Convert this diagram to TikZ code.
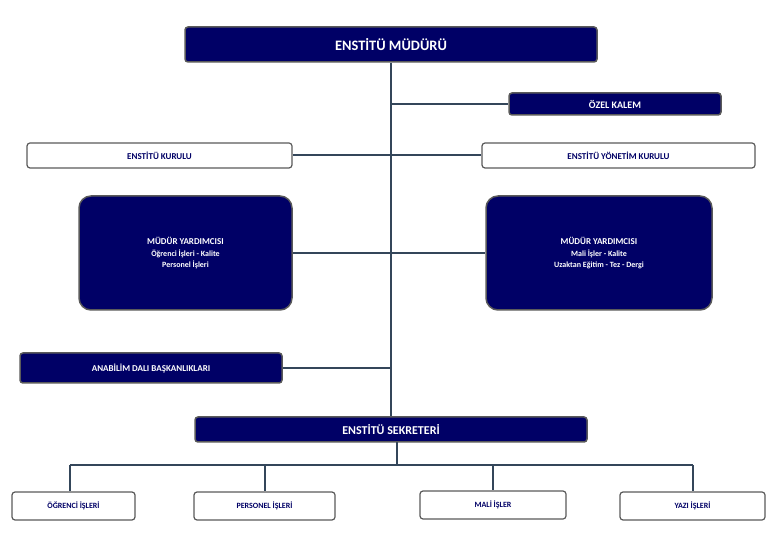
\documentclass[tikz,border=0pt]{standalone}
\usepackage{fontspec}
\setmainfont{Carlito}
\begin{document}
\begin{tikzpicture}[x=1pt,y=-1pt]
    \definecolor{navy}{HTML}{000066}
    \definecolor{edge}{HTML}{5A5A5A}
    \definecolor{link}{HTML}{34465A}
    \tikzstyle{dark}=[rectangle,rounded corners=3pt,draw=edge,line width=1.5pt,fill=navy,text=white,font=\bfseries,inner sep=0pt]
    \tikzstyle{light}=[rectangle,rounded corners=3pt,draw=edge,line width=1.2pt,fill=white,text=navy,font=\bfseries\small,inner sep=0pt]
    \tikzstyle{line}=[link,line width=2pt]
    \useasboundingbox (0,0) rectangle (782,534);

    \node[dark,minimum width=412pt,minimum height=35pt,font=\bfseries\Large] (mudur) at (391,44.5) {ENSTİTÜ MÜDÜRÜ};
    \node[dark,minimum width=212pt,minimum height=22pt,font=\bfseries\normalsize] (kalem) at (615,104) {ÖZEL KALEM};
    \node[light,minimum width=265pt,minimum height=25pt] (kurul) at (159.5,155.5) {ENSTİTÜ KURULU};
    \node[light,minimum width=273pt,minimum height=25pt] (yonetim) at (618.5,155.5) {ENSTİTÜ YÖNETİM KURULU};
    \node[dark,rounded corners=12pt,minimum width=213pt,minimum height=114pt,align=center,font=\bfseries\small] (myard1) at (185.5,253)
        {MÜDÜR YARDIMCISI\\[1pt]{\footnotesize Öğrenci İşleri - Kalite}\\{\footnotesize Personel İşleri}};
    \node[dark,rounded corners=12pt,minimum width=226pt,minimum height=114pt,align=center,font=\bfseries\small] (myard2) at (599,253)
        {MÜDÜR YARDIMCISI\\[1pt]{\footnotesize Mali İşler - Kalite}\\{\footnotesize Uzaktan Eğitim - Tez - Dergi}};
    \node[dark,minimum width=262pt,minimum height=30pt,font=\bfseries\small] (anabilim) at (151,368) {ANABİLİM DALI BAŞKANLIKLARI};
    \node[dark,minimum width=392pt,minimum height=25pt,font=\bfseries\large] (sekreter) at (391,429.5) {ENSTİTÜ SEKRETERİ};

    \node[light,minimum width=123pt,minimum height=28pt,font=\bfseries\footnotesize] (ogrenci) at (73.5,506) {ÖĞRENCİ İŞLERİ};
    \node[light,minimum width=141pt,minimum height=28pt,font=\bfseries\footnotesize] (personel) at (264.5,506) {PERSONEL İŞLERİ};
    \node[light,minimum width=146pt,minimum height=28pt,font=\bfseries\footnotesize] (mali) at (493,505) {MALİ İŞLER};
    \node[light,minimum width=145pt,minimum height=28pt,font=\bfseries\footnotesize] (yazi) at (692.5,506) {YAZI İŞLERİ};

    % trunk and branches
    \begin{scope}[on background layer/.try]
    \end{scope}
    \draw[line] (mudur.south) -- (sekreter.north);
    \draw[line] (391,104) -- (kalem.west);
    \draw[line] (kurul.east) -- (yonetim.west);
    \draw[line] (myard1.east) -- (myard2.west);
    \draw[line] (anabilim.east) -- (391,368);

    \coordinate (split) at (397,465);
    \draw[line] (397,442) -- (split);
    \draw[line] (70,465) -- (693,465);
    \draw[line] (70,465) -- (ogrenci.north -| 70,0);
    \draw[line] (265,465) -- (personel.north -| 265,0);
    \draw[line] (493,465) -- (mali.north);
    \draw[line] (693,465) -- (yazi.north -| 693,0);
\end{tikzpicture}
\end{document}
